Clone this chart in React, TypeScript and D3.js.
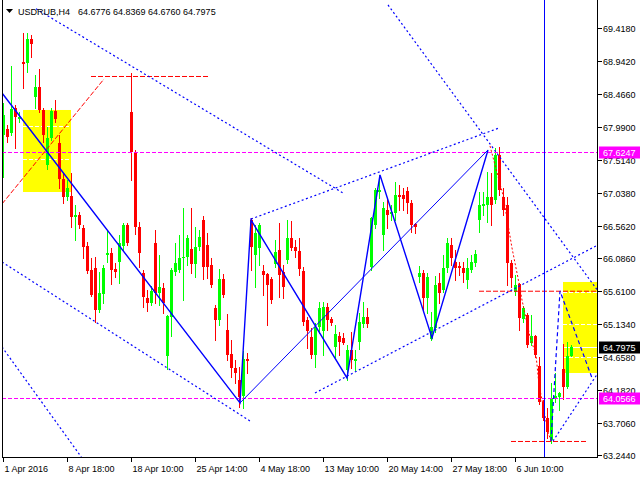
import React from 'react';
import * as d3 from 'd3';

const symbolName = 'USDRUB,H4';
const titleValues = ['64.6776', '64.8369', '64.6760', '64.7975'];

const open = [
  67.873, 67.960, 67.902, 68.264, 68.105, 68.930, 68.916, 69.263, 68.423, 68.568,
  68.235, 67.438, 67.829, 68.220, 67.757, 67.236, 66.975, 66.990, 66.685, 66.714,
  66.526, 66.265, 65.918, 65.947, 65.339, 65.570, 66.135, 66.164, 65.932, 66.034,
  66.265, 66.570, 68.206, 67.627, 66.541, 65.874, 65.512, 65.440, 66.309, 65.585,
  65.657, 64.672, 65.237, 65.889, 65.918, 66.092, 66.106, 66.222, 66.005, 66.251,
  66.642, 66.280, 65.990, 65.368, 65.194, 65.788, 65.049, 64.702, 64.499, 64.325,
  64.093, 64.629, 66.642, 66.135, 66.236, 65.903, 65.860, 65.788, 66.005, 66.207,
  65.889, 66.063, 66.381, 66.251, 66.193, 65.903, 65.194, 64.948, 64.687, 65.092,
  65.034, 65.382, 65.208, 64.803, 64.962, 64.933, 64.470, 64.759, 64.600, 64.875,
  65.136, 65.237, 65.961, 66.570, 67.047, 66.425, 66.787, 66.729, 66.743, 67.004,
  67.004, 67.062, 66.888, 66.584, 65.816, 65.874, 65.512, 64.919, 65.078, 65.730,
  65.628, 65.947, 66.280, 66.034, 65.976, 65.947, 65.773, 65.918, 66.019, 66.642,
  66.845, 66.859, 66.975, 66.932, 67.583, 66.975, 66.859, 66.019, 65.599, 65.715,
  65.208, 65.266, 64.861, 64.962, 64.528, 64.006, 63.775, 63.456, 64.050, 64.079,
  64.484, 64.223, 64.6776,
];
const high = [
  68.336, 68.018, 68.872, 68.307, 68.206, 69.350, 69.350, 69.321, 68.742, 68.829,
  68.264, 67.989, 68.264, 68.380, 67.873, 67.323, 67.221, 67.323, 66.859, 66.758,
  66.570, 66.323, 66.092, 66.106, 65.889, 65.990, 66.497, 66.236, 66.019, 66.425,
  66.599, 66.599, 68.771, 67.656, 66.613, 65.918, 65.628, 65.686, 66.497, 66.135,
  65.730, 65.266, 65.947, 66.309, 66.425, 66.816, 66.425, 66.816, 66.541, 66.497,
  66.700, 66.454, 66.092, 65.411, 65.932, 65.860, 65.281, 64.904, 64.614, 64.513,
  64.745, 64.716, 66.671, 66.570, 66.599, 65.990, 65.874, 65.816, 66.352, 66.599,
  65.990, 66.642, 66.627, 66.352, 66.381, 65.961, 65.237, 65.078, 65.150, 65.454,
  65.454, 65.440, 65.237, 65.121, 65.020, 65.005, 64.832, 65.020, 64.759, 65.295,
  65.454, 65.368, 66.685, 67.105, 67.294, 66.903, 66.961, 66.859, 67.192, 67.149,
  67.105, 67.120, 66.932, 66.599, 65.976, 65.918, 65.874, 65.310, 65.831, 65.874,
  66.135, 66.381, 66.381, 66.207, 66.034, 66.034, 66.092, 66.135, 66.207, 67.047,
  67.047, 67.337, 67.323, 67.685, 67.699, 67.105, 66.975, 66.063, 65.845, 65.730,
  65.397, 65.295, 65.266, 64.977, 64.658, 64.035, 63.919, 64.281, 64.426, 64.151,
  64.846, 64.875, 64.8369,
];
const low = [
  67.265, 67.772, 67.873, 67.685, 68.061, 68.554, 68.785, 69.003, 68.264, 68.206,
  67.772, 67.381, 67.801, 68.061, 67.105, 66.888, 66.932, 66.541, 66.352, 66.526,
  66.092, 65.874, 65.541, 65.165, 65.310, 65.440, 66.034, 65.715, 65.816, 65.730,
  66.207, 66.280, 67.221, 66.439, 65.961, 65.382, 65.324, 65.411, 65.440, 65.411,
  65.295, 64.484, 64.962, 65.845, 65.889, 65.483, 65.990, 65.874, 65.816, 66.207,
  65.788, 65.802, 65.672, 64.904, 65.121, 65.527, 64.614, 64.368, 64.281, 63.934,
  63.919, 64.426, 65.918, 65.672, 65.990, 65.556, 65.121, 65.440, 65.961, 65.527,
  65.512, 66.019, 66.207, 66.106, 65.845, 65.121, 64.789, 64.643, 64.513, 65.005,
  64.687, 65.049, 65.121, 64.658, 64.687, 64.846, 64.325, 64.499, 64.470, 64.774,
  65.092, 65.092, 65.918, 66.526, 66.961, 66.207, 66.526, 66.642, 66.642, 66.787,
  66.787, 66.743, 66.468, 66.454, 65.744, 65.339, 65.295, 64.904, 65.020, 65.440,
  65.599, 65.889, 65.990, 65.773, 65.845, 65.744, 65.657, 65.889, 65.976, 66.468,
  66.714, 66.613, 66.570, 66.888, 67.004, 66.714, 65.701, 65.672, 65.556, 65.049,
  65.165, 64.803, 64.832, 64.658, 63.977, 63.746, 63.485, 63.412, 64.006, 63.890,
  64.050, 64.209, 64.676,
];
const close = [
  68.163, 67.844, 68.249, 68.134, 68.134, 68.901, 69.263, 69.191, 68.568, 68.235,
  67.873, 67.829, 68.220, 68.105, 67.236, 66.975, 67.105, 66.685, 66.714, 66.570,
  66.251, 65.903, 65.556, 65.339, 65.585, 65.947, 66.164, 65.918, 65.889, 66.309,
  66.570, 66.309, 67.627, 66.541, 66.164, 65.527, 65.440, 65.614, 65.585, 65.672,
  65.440, 65.252, 65.918, 66.019, 66.092, 66.106, 66.381, 66.005, 66.251, 66.396,
  65.961, 65.961, 65.701, 65.194, 65.788, 65.556, 64.687, 64.499, 64.426, 64.079,
  64.629, 64.600, 66.251, 66.454, 66.570, 65.845, 65.701, 65.483, 66.179, 65.845,
  65.672, 66.381, 66.236, 66.193, 65.932, 65.165, 65.034, 64.687, 65.092, 65.368,
  65.382, 65.194, 65.150, 64.991, 64.875, 64.861, 64.759, 64.614, 64.629, 65.165,
  65.237, 65.136, 66.671, 67.076, 67.076, 66.816, 66.714, 66.758, 67.004, 66.975,
  66.946, 66.888, 66.570, 66.541, 65.874, 65.512, 65.816, 65.092, 65.701, 65.585,
  65.947, 66.309, 66.092, 65.947, 65.947, 65.874, 65.947, 66.034, 66.150, 66.859,
  66.874, 66.975, 66.859, 67.583, 67.076, 66.787, 66.019, 65.802, 65.701, 65.223,
  65.368, 64.832, 64.962, 64.687, 64.006, 63.775, 63.572, 64.064, 64.093, 64.137,
  64.223, 64.672, 64.7975,
];

const priceTicks = [69.418, 68.942, 68.466, 67.99, 67.514, 67.038, 66.562, 66.086, 65.61, 65.134, 64.658, 64.182, 63.706, 63.244];
const timeLabels = ['1 Apr 2016', '8 Apr 18:00', '18 Apr 10:00', '25 Apr 14:00', '4 May 18:00', '13 May 10:00', '20 May 14:00', '27 May 18:00', '6 Jun 10:00'];
const timeLabelIndex = [0, 16, 32, 48, 64, 80, 96, 112, 128];

const levelPrices = [67.6247, 64.0566];
const currentPrice = 64.7975;
const vlineIndex = 135;

// overlay objects: [barIndex, price]
const zigzag: [number, number][] = [[-0.375, 68.481], [59.125, 63.992], [61.875, 66.642], [85.875, 64.354], [94.125, 67.294], [107.125, 64.933], [121.125, 67.656]];
const thinLine: [number, number][] = [[59.125, 63.992], [121.125, 67.656]];
const dottedLines: [number, number][][] = [
  [[8.125, 69.700], [84.875, 67.033]],
  [[96.125, 69.756], [148.625, 65.614]],
  [[61.875, 66.656], [123.875, 67.974]],
  [[77.875, 64.137], [148.625, 66.280]],
  [[-0.375, 66.034], [61.625, 63.731]],
  [[-0.375, 64.803], [19.625, 63.195]],
  [[137.375, 63.441], [148.625, 64.426]],
];
const dashedProjection: [number, number][] = [[136.875, 63.441], [139.125, 65.614], [147.125, 64.354]];
const redDashed: [number, number][][] = [
  [[21.875, 68.720], [51.125, 68.720]],
  [[-0.375, 66.874], [25.125, 68.684]],
  [[118.875, 65.61], [148.625, 65.61]],
  [[126.875, 63.434], [145.625, 63.434]],
];
const redPath: [number, number][] = [[121.625, 67.714], [124.875, 67.004], [127.125, 66.236], [128.625, 65.802], [129.625, 65.483], [131.625, 64.948], [133.125, 64.687], [133.875, 64.252], [134.875, 63.963], [136.125, 63.572], [136.875, 63.441]];
const boxLeft = { i0: 4.875, i1: 16.875, p0: 68.235, p1: 67.047, lines: [68.003, 67.525, 67.047] };
const boxRight = { i0: 139.875, i1: 148.375, p0: 65.744, p1: 64.426, lines: [65.599, 65.136, 64.658] };

const FONT = '"Liberation Sans", Arial, sans-serif';

export default function App() {
  const L = 2, R = 598, T = 0, B = 458;
  const x = d3.scaleLinear().domain([0, 142]).range([3.5, 571.5]);
  const y = d3.scaleLinear().domain([63.244, 69.418]).range([454.6, 28.3]);
  const line = d3.line<[number, number]>().x(d => x(d[0])).y(d => y(d[1]));
  const fmt = d3.format('.4f');

  return (
    <svg width={640} height={480} style={{ position: 'absolute', left: 0, top: 0, background: '#fff' }} fontFamily={FONT}>
      <defs>
        <clipPath id="plot"><rect x={L} y={T} width={R - L} height={B - T} /></clipPath>
      </defs>
      <rect x={0} y={0} width={640} height={480} fill="#fff" />
      <g clipPath="url(#plot)">
        {[boxLeft, boxRight].map((b, k) => (
          <g key={k}>
            <rect x={x(b.i0)} y={y(b.p0)} width={x(b.i1) - x(b.i0)} height={y(b.p1) - y(b.p0)} fill="#FFFF00" />
            {b.lines.map((p, j) => (
              <line key={j} x1={x(b.i0)} x2={x(b.i1)} y1={Math.round(y(p)) + 0.5} y2={Math.round(y(p)) + 0.5} stroke="#fff" strokeDasharray="4,2" />
            ))}
          </g>
        ))}
        <line x1={x(boxRight.i0)} x2={x(boxRight.i1)} y1={Math.round(y(currentPrice)) + 0.5} y2={Math.round(y(currentPrice)) + 0.5} stroke="#fff" />
        {open.map((o, i) => {
          const c = close[i];
          const col = c >= o ? '#00FF00' : '#FF0000';
          const cx = x(i);
          const top = Math.round(y(Math.max(o, c)));
          const h = Math.max(1, Math.round(y(Math.min(o, c))) - top);
          return (
            <g key={i}>
              <line x1={cx} x2={cx} y1={Math.round(y(high[i]))} y2={Math.round(y(low[i])) + 1} stroke={col} strokeWidth={1} />
              <rect x={cx - 1.5} y={top} width={3} height={h} fill={col} />
            </g>
          );
        })}
        {levelPrices.map((p, k) => (
          <line key={k} x1={L} x2={R} y1={Math.round(y(p)) + 0.5} y2={Math.round(y(p)) + 0.5} stroke="#FF00FF" strokeDasharray="4,2" />
        ))}
        {redDashed.map((d, k) => (
          <path key={k} d={line(d) || ''} stroke="#FF0000" fill="none" strokeDasharray="5,2" />
        ))}
        <path d={line(redPath) || ''} stroke="#FF0000" fill="none" strokeDasharray="2,2" />
        {dottedLines.map((d, k) => (
          <path key={k} d={line(d) || ''} stroke="#0000FF" fill="none" strokeWidth={1.2} strokeDasharray="2,2.5" />
        ))}
        <path d={line(dashedProjection) || ''} stroke="#0000FF" fill="none" strokeWidth={1.2} strokeDasharray="4,3" />
        <path d={line(thinLine) || ''} stroke="#0000FF" fill="none" strokeWidth={1} />
        <path d={line(zigzag) || ''} stroke="#0000FF" fill="none" strokeWidth={1.4} />
        <line x1={Math.round(x(vlineIndex)) + 0.5} x2={Math.round(x(vlineIndex)) + 0.5} y1={T} y2={B} stroke="#0000FF" strokeWidth={1} />
      </g>
      {/* frame */}
      <line x1={L + 0.5} x2={L + 0.5} y1={T} y2={B} stroke="#000" />
      <line x1={R - 0.5} x2={R - 0.5} y1={T} y2={B} stroke="#000" />
      <line x1={L} x2={R} y1={B - 0.5} y2={B - 0.5} stroke="#000" />
      {/* price axis */}
      {priceTicks.map((p, k) => {
        const yy = Math.round(y(p)) + 0.5;
        return (
          <g key={k}>
            <line x1={R} x2={R + 4} y1={yy} y2={yy} stroke="#000" />
            <text x={603} y={yy + 3.5} fontSize={9} fill="#000">{fmt(p)}</text>
          </g>
        );
      })}
      {levelPrices.map((p, k) => {
        const yy = Math.round(y(p)) + 0.5;
        return (
          <g key={k}>
            <rect x={599} y={yy - 6} width={41} height={12} fill="#FF00FF" />
            <text x={603} y={yy + 3.5} fontSize={9} fill="#fff">{fmt(p)}</text>
          </g>
        );
      })}
      {(() => {
        const yy = Math.round(y(currentPrice)) + 0.5;
        return (
          <g>
            <rect x={599} y={yy - 6} width={41} height={12} fill="#000" />
            <text x={603} y={yy + 3.5} fontSize={9} fill="#fff">{fmt(currentPrice)}</text>
          </g>
        );
      })()}
      {/* time axis */}
      {timeLabelIndex.map((i, k) => {
        const xx = Math.round(x(i) - 1) + 0.5;
        return (
          <g key={k}>
            <line x1={xx} x2={xx} y1={B} y2={B + 4} stroke="#000" />
            <text x={xx + 1} y={472} fontSize={9} fill="#000">{timeLabels[k]}</text>
          </g>
        );
      })}
      {/* title */}
      <polygon points="6,9 13,9 9.5,13" fill="#000" />
      <text x={18} y={15} fontSize={9} fill="#000">{symbolName}</text>
      <text x={78} y={15} fontSize={9} fill="#000">{titleValues.join(' ')}</text>
    </svg>
  );
}
